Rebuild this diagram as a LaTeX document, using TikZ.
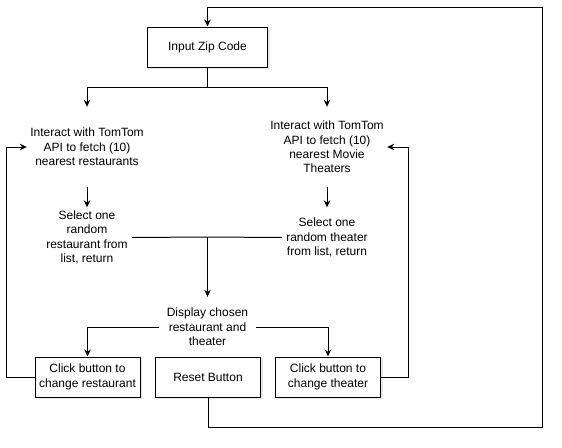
\documentclass[tikz,border=0pt]{standalone}
\usepackage{fontspec}
\setmainfont{Liberation Sans}
\usetikzlibrary{arrows.meta,shadows}
\begin{document}
\begin{tikzpicture}[x=1pt,y=-1pt,
  every node/.style={font=\fontsize{12}{14.4}\selectfont, align=center, inner sep=0pt},
  box/.style={draw, fill=white, line width=1pt, minimum width=105pt, minimum height=40pt,
    drop shadow={shadow xshift=2pt, shadow yshift=-2pt, opacity=0.18}},
  txt/.style={minimum width=#1, minimum height=60pt},
  wire/.style={line width=1pt},
  flow/.style={line width=1pt, -{Stealth[length=7pt, width=6.5pt]}}]

\useasboundingbox (0,0) rectangle (562,447);

% process steps
\node[box, minimum width=120pt] (zip) at (207.5,47) {Input Zip Code};

\node[txt=120pt, minimum height=80pt] (interL) at (87,147)
  {Interact with TomTom\\API to fetch (10)\\nearest restaurants};
\node[txt=120pt, minimum height=80pt] (interR) at (327,147)
  {Interact with TomTom\\API to fetch (10)\\nearest Movie\\Theaters};

\node[txt=90pt] (selL) at (87,237.5)
  {Select one\\random\\restaurant from\\list, return};
\node[txt=90pt] (selR) at (327,237.5)
  {Select one\\random theater\\from list, return};

\node[txt=97pt] (disp) at (207.5,327)
  {Display chosen\\restaurant and\\theater};

\node[box] (clickL) at (87.5,377) {Click button to\\change restaurant};
\node[box] (reset)  at (208,377)  {Reset Button};
\node[box] (clickT) at (328,377)  {Click button to\\change theater};

% routing points
\coordinate (split) at (207.5,87);
\coordinate (join)  at (207.5,237);
\coordinate (cornerBR) at (542,427);
\coordinate (cornerTR) at (542,7);

% connectors
\draw[flow] (zip.south) -- (split) -| (interL.north);
\draw[flow] (split) -| (interR.north);

\draw[flow] (interL.south) -- (selL.north);
\draw[flow] (interR.south) -- (selR.north);

\draw[wire] (selL.east) -- (join);
\draw[wire] (selR.west) -- (join);
\draw[flow] (join) -- (disp.north);

\draw[flow] (disp.west) -| (clickL.north);
\draw[flow] (disp.east) -| (clickT.north);

\draw[flow] (clickL.west) -- ++(-28,0) |- (interL.west);
\draw[flow] (clickT.east) -- ++(27,0) |- (interR.east);
\draw[flow] (reset.south) |- (cornerBR) -- (cornerTR) -| (zip.north);

\end{tikzpicture}
\end{document}
